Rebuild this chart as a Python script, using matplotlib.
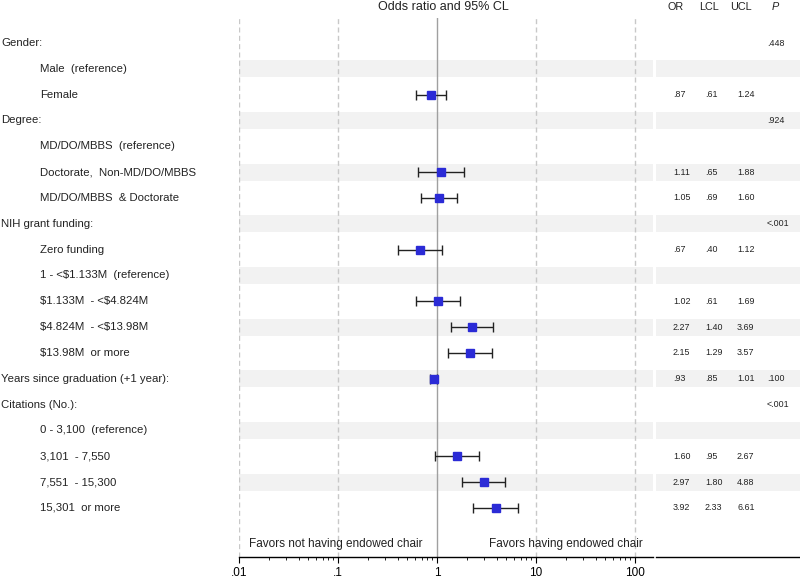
import matplotlib
matplotlib.use("Agg")
import matplotlib.pyplot as plt
import matplotlib.transforms as mtrans
from matplotlib.ticker import LogLocator, FixedLocator, NullFormatter

plt.rcParams['font.family'] = ['Liberation Sans', 'DejaVu Sans']

labels = ["Gender:", "Male  (reference)", "Female",
          "Degree:", "MD/DO/MBBS  (reference)", "Doctorate,  Non-MD/DO/MBBS", "MD/DO/MBBS  & Doctorate",
          "NIH grant funding:", "Zero funding", "1 - <$1.133M  (reference)", "$1.133M  - <$4.824M",
          "$4.824M  - <$13.98M", "$13.98M  or more",
          "Years since graduation (+1 year):",
          "Citations (No.):", "0 - 3,100  (reference)", "3,101  - 7,550", "7,551  - 15,300", "15,301  or more"]
is_header = [True, False, False, True, False, False, False, True, False, False, False, False, False,
             True, True, False, False, False, False]
or_vals = [None, None, 0.87, None, None, 1.11, 1.05, None, 0.67, None, 1.02, 2.27, 2.15, 0.93,
           None, None, 1.60, 2.97, 3.92]
lcl_vals = [None, None, 0.61, None, None, 0.65, 0.69, None, 0.40, None, 0.61, 1.40, 1.29, 0.85,
            None, None, 0.95, 1.80, 2.33]
ucl_vals = [None, None, 1.24, None, None, 1.88, 1.60, None, 1.12, None, 1.69, 3.69, 3.57, 1.01,
            None, None, 2.67, 4.88, 6.61]
p_vals = [".448", "", "", ".924", "", "", "", "<.001", "", "", "", "", "", ".100", "<.001",
          "", "", "", ""]
xticks = [0.01, 0.1, 1, 10, 100]
xtick_labels = [".01", ".1", "1", "10", "100"]
col_headers = ["OR", "LCL", "UCL", "P"]

W, H = 800, 578
fig = plt.figure(figsize=(W / 100, H / 100), dpi=100)

top_px, bot_px = 18, 557
first_row_px, row_h = 43, 25.83
ylim_top = (top_px - first_row_px) / row_h
ylim_bot = (bot_px - first_row_px) / row_h

def fx(px):
    return px / W

ax = fig.add_axes([fx(239), (H - bot_px) / H, fx(653 - 239), (bot_px - top_px) / H])
tab = fig.add_axes([fx(656), (H - bot_px) / H, fx(800 - 656), (bot_px - top_px) / H])

n = len(labels)
band_h = 0.66
band_col = '#f2f2f2'
for a in (ax, tab):
    a.set_ylim(ylim_bot, ylim_top)
    for i in range(n):
        if i % 2 == 1:
            a.axhspan(i - band_h / 2, i + band_h / 2, color=band_col, lw=0, zorder=0)
    for s in ('top', 'left', 'right'):
        a.spines[s].set_visible(False)
    a.spines['bottom'].set_linewidth(1.0)
    a.set_yticks([])

ax.set_xscale('log')
ax.set_xlim(0.01, 10 ** 2.182)
for xv in xticks:
    if xv == 1:
        ax.axvline(xv, color='#a0a0a0', lw=1.0, zorder=1)
    else:
        ax.axvline(xv, color='#c8c8c8', lw=1.0, ls=(0, (3.6, 2.4)), zorder=1)
ax.xaxis.set_major_locator(FixedLocator(xticks))
ax.set_xticklabels(xtick_labels, fontsize=8.5)
ax.xaxis.set_minor_locator(LogLocator(base=10, subs=range(2, 10), numticks=20))
ax.xaxis.set_minor_formatter(NullFormatter())
ax.tick_params(axis='x', which='major', length=4, width=0.8, pad=3)
ax.tick_params(axis='x', which='minor', length=2, width=0.6)

tab.set_xlim(0, 1)
tab.set_xticks([])

# forest points
for i in range(n):
    if or_vals[i] is None:
        continue
    ax.errorbar(or_vals[i], i, xerr=[[or_vals[i] - lcl_vals[i]], [ucl_vals[i] - or_vals[i]]],
                fmt='s', color='black', ecolor='#222222', elinewidth=1.0, capsize=3.5, capthick=1.0,
                markersize=5.2, markerfacecolor='#2b2bd6', markeredgecolor='#2b2bd6', zorder=3)

# labels
tr = mtrans.blended_transform_factory(fig.transFigure, ax.transData)
for i, lab in enumerate(labels):
    x = 1 if is_header[i] else 40
    fig.text(fx(x), i, lab, transform=tr, ha='left', va='center', fontsize=8.2,
             color='#222222', parse_math=False)

def fmt(v):
    s = f"{v:.2f}"
    return s[1:] if s.startswith("0") else s

for i in range(n):
    if or_vals[i] is not None:
        for v, xp in ((or_vals[i], 673), (lcl_vals[i], 705), (ucl_vals[i], 737)):
            fig.text(fx(xp), i, fmt(v), transform=tr, ha='left', va='center', fontsize=6.4,
                     color='#222222')
    if p_vals[i]:
        fig.text(fx(767), i, p_vals[i], transform=tr, ha='left', va='center', fontsize=6.4,
                 color='#222222')

# headers
hy = 1 - 7.5 / H
fig.text(fx(443), hy, "Odds ratio and 95% CL", ha='center', va='center', fontsize=9, color='#222222')
for txt, xp in zip(col_headers, [676, 709, 741, 775]):
    fig.text(fx(xp), hy, txt, ha='center', va='center', fontsize=7.8, color='#222222',
             style='italic' if txt == 'P' else 'normal')

# favors text
fav_y = (544 - first_row_px) / row_h
ax.text(10 ** (-2 + 10 / 99), fav_y, "Favors not having endowed chair", ha='left', va='center',
        fontsize=8.5, color='#222222')
ax.text(10 ** (2 + 8 / 99), fav_y, "Favors having endowed chair", ha='right', va='center',
        fontsize=8.5, color='#222222')

fig.savefig("out.png", dpi=100)
